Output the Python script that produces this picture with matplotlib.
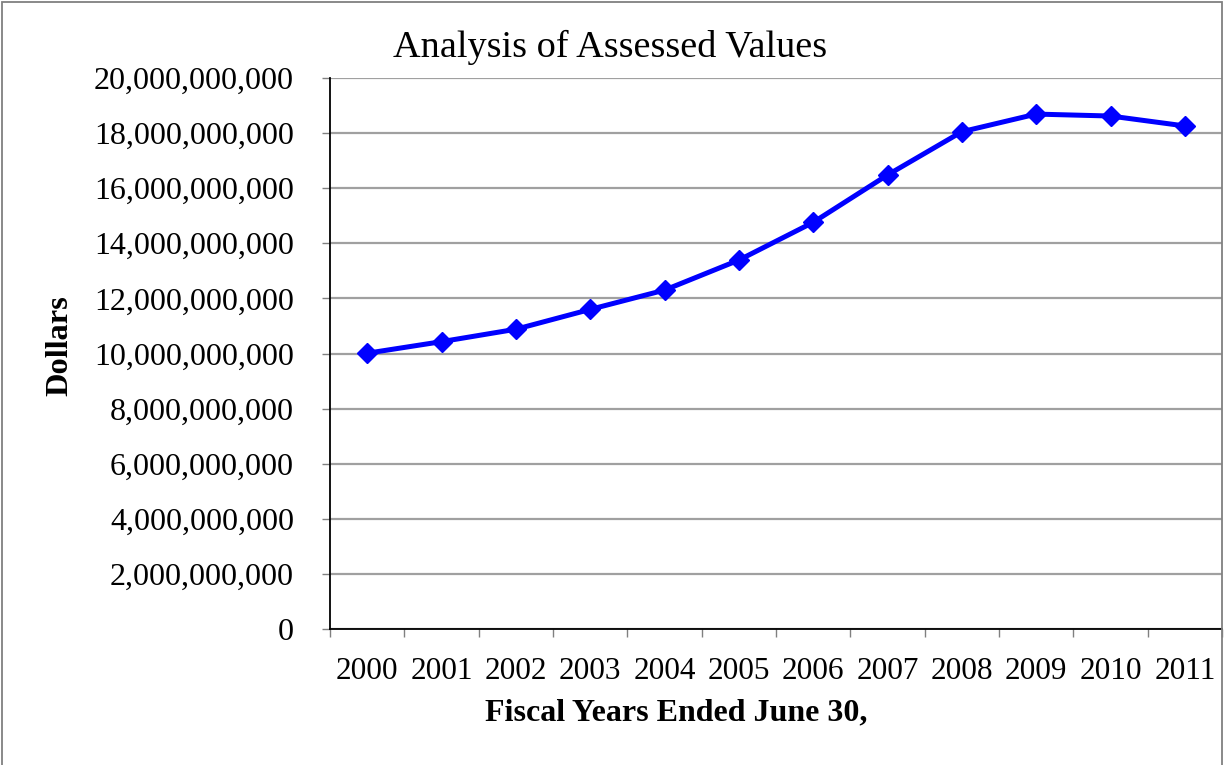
import matplotlib
matplotlib.use("Agg")
from matplotlib import pyplot as plt
from matplotlib.ticker import FuncFormatter, FixedLocator
from matplotlib.patches import Rectangle

# assessed values by fiscal year
years = ["2000", "2001", "2002", "2003", "2004", "2005",
         "2006", "2007", "2008", "2009", "2010", "2011"]
assessed = [10.01e9, 10.43e9, 10.88e9, 11.60e9, 12.30e9, 13.39e9,
            14.76e9, 16.48e9, 18.05e9, 18.69e9, 18.62e9, 18.26e9]
yticks = [0, 2e9, 4e9, 6e9, 8e9, 10e9, 12e9, 14e9, 16e9, 18e9, 20e9]

plt.rcParams["font.family"] = ["Liberation Serif", "DejaVu Serif"]

fig = plt.figure(figsize=(12.25, 7.65), dpi=100)
ax = fig.add_axes([330/1225, 1-629/765, 892/1225, 551/765])

x = list(range(len(years)))
ax.plot(x, assessed, color="#0000ff", lw=3.6, marker="D", ms=10.5,
        markeredgecolor="#0000ff", zorder=3)

ax.set_xlim(-0.5, len(years) - 0.5)
ax.set_ylim(0, 20e9)
ax.set_yticks(yticks)
ax.yaxis.set_major_formatter(FuncFormatter(lambda v, p: "{:,.0f}".format(v)))
ax.set_xticks(x)
ax.set_xticklabels(years)
ax.xaxis.set_minor_locator(FixedLocator([i - 0.5 for i in range(len(years) + 1)]))
ax.tick_params(axis="x", which="major", length=0, pad=20.5, labelsize=22.5)
ax.tick_params(axis="x", which="minor", length=6, width=1, color="#808080", direction="out")
ax.tick_params(axis="y", length=6, width=1, color="#808080", direction="out",
               labelsize=23, pad=20)

ax.grid(axis="y", color="#a0a0a0", lw=1.6)
ax.set_axisbelow(True)
for s in ["top", "right"]:
    ax.spines[s].set_visible(False)
ax.spines["left"].set_color("black")
ax.spines["bottom"].set_color("black")
ax.spines["left"].set_linewidth(1.3)
ax.spines["bottom"].set_linewidth(1.3)

fig.text(610/1225, 1-47/765, "Analysis of Assessed Values", fontsize=27.5,
         ha="center", va="center")
fig.text(676/1225, 1-713/765, "Fiscal Years Ended June 30,", fontsize=23,
         fontweight="bold", ha="center", va="center")
fig.text(60/1225, 1-346/765, "Dollars", fontsize=23.3, fontweight="bold",
         rotation=90, ha="center", va="center")

# chart area border
fig.patches.append(Rectangle((2/1225, -0.05), 1220/1225, 1.05 - 2/765,
                             transform=fig.transFigure, fill=False,
                             edgecolor="#808080", lw=1.3))

fig.savefig("out.png", dpi=100)
